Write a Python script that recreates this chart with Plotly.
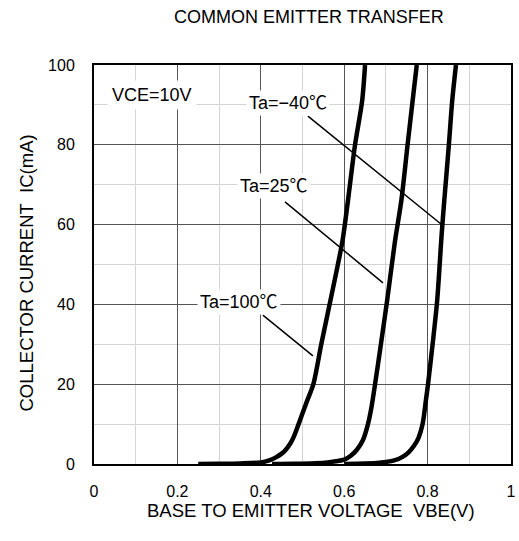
import plotly.graph_objects as go

# ---- data ----
vbe_m40 = [0.60, 0.65, 0.69, 0.72, 0.74, 0.755, 0.767, 0.778, 0.788, 0.796, 0.801, 0.812, 0.823, 0.834, 0.840, 0.851, 0.859, 0.868]
ic_m40 = [0.0, 0.1, 0.4, 0.9, 1.8, 3.0, 4.5, 6.5, 10.0, 16.0, 20.0, 30.0, 41.0, 58.0, 66.0, 80.0, 91.0, 100.0]

vbe_25 = [0.427, 0.48, 0.53, 0.56, 0.58, 0.60, 0.615, 0.63, 0.645, 0.657, 0.665, 0.674, 0.688, 0.703, 0.722, 0.737, 0.752, 0.764, 0.774]
ic_25 = [0.0, 0.05, 0.2, 0.4, 0.7, 1.1, 2.0, 3.5, 6.0, 10.0, 14.0, 20.0, 30.0, 41.0, 56.0, 66.0, 80.0, 91.0, 100.0]

vbe_100 = [0.25, 0.30, 0.35, 0.40, 0.42, 0.435, 0.45, 0.46, 0.47, 0.479, 0.49, 0.508, 0.526, 0.545, 0.567, 0.596, 0.609, 0.626, 0.643, 0.65]
ic_100 = [0.0, 0.05, 0.15, 0.4, 0.9, 1.6, 2.6, 3.6, 5.0, 6.8, 9.8, 15.0, 20.0, 30.0, 41.0, 56.0, 66.0, 80.0, 91.0, 100.0]

series_names = ["Ta=−40℃", "Ta=25℃", "Ta=100℃"]
series_x = [vbe_m40, vbe_25, vbe_100]
series_y = [ic_m40, ic_25, ic_100]

# label anchor positions (data units) and leader lines (start/end in data units)
label_x = [0.466, 0.432, 0.348]
label_y = [90.5, 69.7, 40.6]
leader_x = [[0.513, 0.835], [0.458, 0.693], [0.405, 0.525]]
leader_y = [[87.2, 59.9], [65.7, 45.4], [37.3, 27.1]]

cond_text = "VCE=10V"
cond_x, cond_y = 0.139, 92.5

x_ticks = [0, 0.2, 0.4, 0.6, 0.8, 1]
x_tick_labels = ["0", "0.2", "0.4", "0.6", "0.8", "1"]
y_ticks = [0, 20, 40, 60, 80, 100]
y_tick_labels = ["0", "20", "40", "60", "80", "100"]

title_text = "COMMON EMITTER TRANSFER"
x_title = "BASE TO EMITTER VOLTAGE\u00a0\u00a0VBE(V)"
y_title = "COLLECTOR CURRENT\u00a0\u00a0IC(mA)"

FONT = "Liberation Sans, Arial, Noto Sans CJK JP, sans-serif"
W, H = 519, 541
L, R, T, B = 94, 8, 65, 77

fig = go.Figure()

for name, xs, ys in zip(series_names, series_x, series_y):
    fig.add_trace(go.Scatter(x=xs, y=ys, mode="lines", name=name,
                             line=dict(color="black", width=4.5, shape="spline", smoothing=0.8),
                             showlegend=False, hoverinfo="skip"))

for lx, ly in zip(leader_x, leader_y):
    fig.add_trace(go.Scatter(x=lx, y=ly, mode="lines",
                             line=dict(color="black", width=1.5),
                             showlegend=False, hoverinfo="skip"))

annotations = []
annotations.append(dict(x=cond_x, y=cond_y, xref="x", yref="y", text=cond_text,
                        showarrow=False, bgcolor="white", borderpad=4,
                        font=dict(family=FONT, size=18, color="black")))
for name, lx, ly in zip(series_names, label_x, label_y):
    annotations.append(dict(x=lx, y=ly, xref="x", yref="y", text=name,
                            showarrow=False, bgcolor="white", borderpad=2,
                            font=dict(family=FONT, size=18, color="black")))

pw, ph = W - L - R, H - T - B
def px_to_paper(px, py):
    return (px - L) / pw, (H - B - py) / ph

tx, ty = px_to_paper(308.5, 17)
annotations.append(dict(x=tx, y=ty, xref="paper", yref="paper", text=title_text,
                        showarrow=False, xanchor="center", yanchor="middle",
                        font=dict(family=FONT, size=18, color="black")))
xtx, xty = px_to_paper(310.5, 510)
annotations.append(dict(x=xtx, y=xty, xref="paper", yref="paper", text=x_title,
                        showarrow=False, xanchor="center", yanchor="middle",
                        font=dict(family=FONT, size=18.5, color="black")))
ytx, yty = px_to_paper(26, 273.5)
annotations.append(dict(x=ytx, y=yty, xref="paper", yref="paper", text=y_title,
                        showarrow=False, xanchor="center", yanchor="middle", textangle=-90,
                        font=dict(family=FONT, size=18.5, color="black")))

fig.update_layout(
    annotations=annotations,
    width=W, height=H,
    margin=dict(l=L, r=R, t=T, b=B, autoexpand=False),
    paper_bgcolor="white", plot_bgcolor="white",
    font=dict(family=FONT, size=16, color="black"),
)

fig.update_xaxes(
    range=[0, 1], tickvals=x_ticks, ticktext=x_tick_labels,
    showgrid=True, gridcolor="#555555", gridwidth=1,
    minor=dict(dtick=0.1, showgrid=True, gridcolor="#d4d4d4", gridwidth=1),
    showline=True, linecolor="black", linewidth=2, mirror=True,
    zeroline=False, ticks="", ticklabelstandoff=12, automargin=False,
    tickfont=dict(family=FONT, size=16, color="black"),
)
fig.update_yaxes(
    range=[0, 100], tickvals=y_ticks, ticktext=y_tick_labels,
    showgrid=True, gridcolor="#555555", gridwidth=1,
    minor=dict(dtick=10, showgrid=True, gridcolor="#d4d4d4", gridwidth=1),
    showline=True, linecolor="black", linewidth=2, mirror=True,
    zeroline=False, ticks="", ticklabelstandoff=14, automargin=False,
    tickfont=dict(family=FONT, size=16, color="black"),
)

fig.write_html(
    "out.html",
    config={"displayModeBar": False},
    post_script="document.body.style.margin='0';document.body.style.overflow='hidden';",
)
